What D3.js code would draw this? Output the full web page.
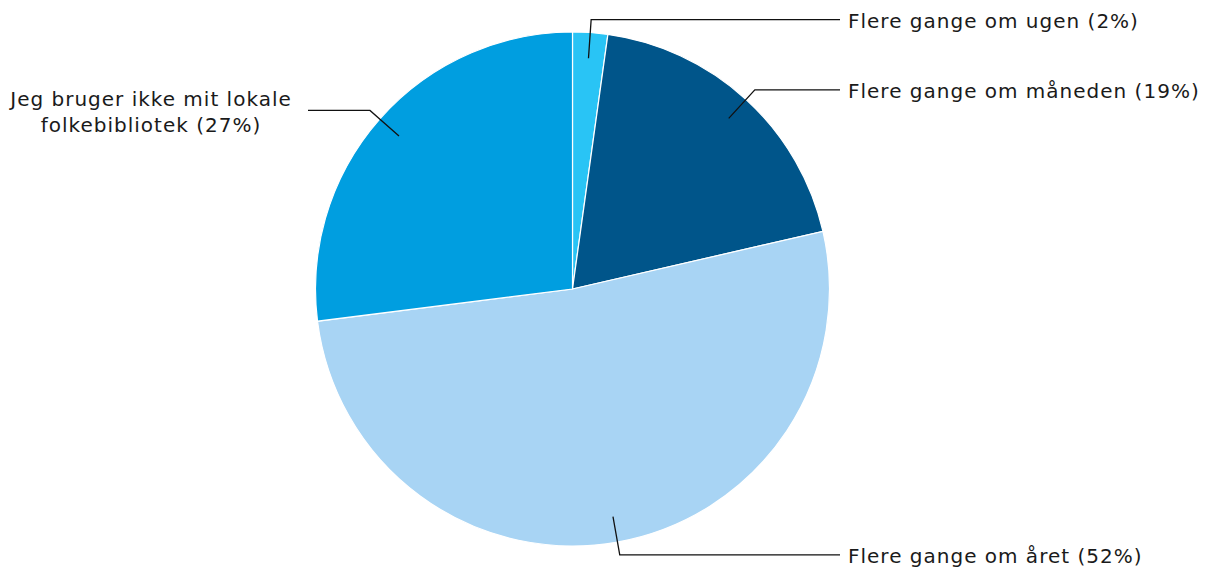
<html>
  <head>
    <meta charset="utf-8" />
    <style>
      body {
        margin: 0;
        background: #fff;
        font-family: "DejaVu Sans", Verdana, sans-serif;
      }
      .slice {
        stroke: #fff;
        stroke-width: 1.2px;
      }
      .leader {
        fill: none;
        stroke: #111;
        stroke-width: 1.3px;
      }
      .label {
        font-size: 20px;
        letter-spacing: 1px;
        fill: #1a1a1a;
      }
    </style>
  </head>
  <body>
    <script src="https://d3js.org/d3.v7.min.js"></script>
    <script>
      const categories = [
        "Flere gange om ugen",
        "Flere gange om måneden",
        "Flere gange om året",
        "Jeg bruger ikke mit lokale folkebibliotek",
      ];
      const values = [2.2, 19.2, 51.6, 27.0];
      const labelPct = ["2%", "19%", "52%", "27%"];
      const colors = ["#29c4f5", "#00558a", "#a8d4f4", "#009ee0"];

      const width = 1212,
        height = 571;
      const cx = 572.5,
        cy = 289,
        radius = 257;

      const svg = d3
        .select("body")
        .append("svg")
        .attr("width", width)
        .attr("height", height);

      const g = svg.append("g").attr("transform", `translate(${cx},${cy})`);

      const pie = d3.pie().sort(null).value((d) => d);
      const arcs = pie(values);
      const arc = d3.arc().innerRadius(0).outerRadius(radius);
      const innerArc = d3.arc().innerRadius(radius * 0.9).outerRadius(radius * 0.9);
      const outerArc = d3.arc().innerRadius(270).outerRadius(270);

      g.selectAll("path.slice")
        .data(arcs)
        .join("path")
        .attr("class", "slice")
        .attr("fill", (d, i) => colors[i])
        .attr("d", arc);

      const lineEndRight = 840 - cx,
        lineEndLeft = 308 - cx;

      arcs.forEach((d, i) => {
        const p1 = innerArc.centroid(d);
        const p2 = outerArc.centroid(d);
        const mid = (d.startAngle + d.endAngle) / 2;
        const right = mid < Math.PI;
        const p3 = [right ? lineEndRight : lineEndLeft, p2[1]];
        g.append("polyline")
          .attr("class", "leader")
          .attr("points", [p1, p2, p3].map((p) => p.join(",")).join(" "));

        const text = `${categories[i]} (${labelPct[i]})`;
        if (right) {
          g.append("text")
            .attr("class", "label")
            .attr("x", p3[0] + 8)
            .attr("y", p3[1] + 1)
            .attr("dy", "0.35em")
            .text(text);
        } else {
          // left label wraps to two centered lines
          const lines = ["Jeg bruger ikke mit lokale", `folkebibliotek (${labelPct[i]})`];
          const t = g
            .append("text")
            .attr("class", "label")
            .attr("text-anchor", "middle");
          lines.forEach((ln, k) => {
            t.append("tspan")
              .attr("x", 151 - cx)
              .attr("y", p3[1] - 11 + k * 26)
              .attr("dy", "0.35em")
              .text(ln);
          });
        }
      });
    </script>
  </body>
</html>
